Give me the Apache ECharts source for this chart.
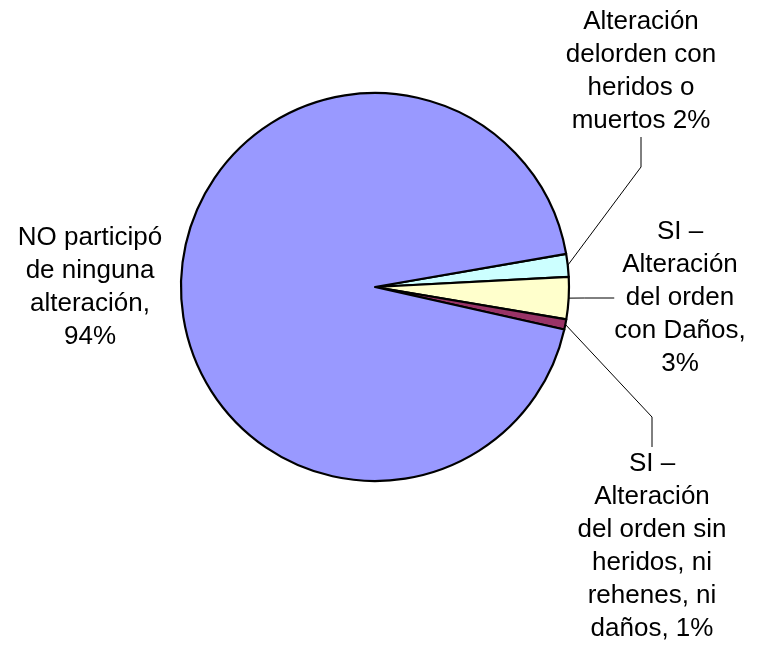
<!DOCTYPE html>
<html>
<head>
<meta charset="utf-8">
<title>Participación en alteraciones</title>
<script src="https://cdn.jsdelivr.net/npm/echarts@6/dist/echarts.min.js"></script>
<style>
    html, body { margin: 0; padding: 0; background: #fff; }
    #chart { width: 759px; height: 645px; }
</style>
</head>
<body>
<div id="chart"></div>
<script>
// slice labels, in clockwise order from the top edge of the light blue slice
const labels = [
    'Alteración\ndelorden con\nheridos o\nmuertos 2%',
    'SI –\nAlteración\ndel orden\ncon Daños,\n3%',
    'SI –\nAlteración\ndel orden sin\nheridos, ni\nrehenes, ni\ndaños, 1%',
    'NO participó\nde ninguna\nalteración,\n94%'
];
const values = [1.9, 3.5, 0.85, 93.75];
const colors = ['#CCFFFF', '#FFFFCC', '#993366', '#9999FF'];

// where each label block sits (center of the text)
const labelSpots = [[641, 71], [680, 298], [652, 546], [90, 287]];

function buildData() {
    let data = [];
    for (let i = 0; i < values.length; i++) {
        data.push({
            name: labels[i],
            value: values[i],
            itemStyle: { color: colors[i] },
            labelLine: { show: i !== 3 }
        });
    }
    return data;
}

let chart = echarts.init(document.getElementById('chart'), null, { renderer: 'canvas' });
let option = {
    animation: false,
    series: [{
        type: 'pie',
        center: [375, 287],
        radius: 194,
        startAngle: 9.85,
        clockwise: true,
        data: buildData(),
        itemStyle: {
            borderColor: '#000',
            borderWidth: 2.2
        },
        label: {
            show: true,
            formatter: '{b}',
            color: '#000',
            fontFamily: 'Liberation Sans, Arial, sans-serif',
            fontSize: 26,
            lineHeight: 33,
            align: 'center',
            overflow: 'none',
            edgeDistance: 0
        },
        labelLine: {
            show: true,
            lineStyle: { color: '#000', width: 1 }
        },
        labelLayout: function (params) {
            let p = labelSpots[params.dataIndex];
            return { x: p[0], y: p[1], align: 'center', verticalAlign: 'middle' };
        },
        emphasis: { disabled: true }
    }]
};
chart.setOption(option);
</script>
</body>
</html>
